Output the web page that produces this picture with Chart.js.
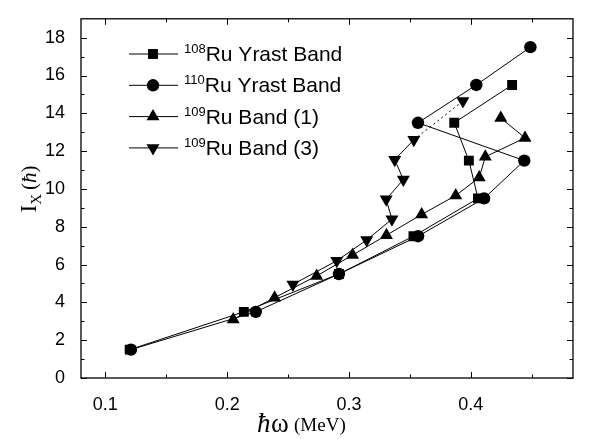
<!DOCTYPE html>
<html>
    <head>
        <meta charset="UTF-8">
        <title>Ix vs hbar omega</title>
        <script src="https://cdn.jsdelivr.net/npm/chart.js"></script>
        <style>
            body { margin: 0; background: #fff; }
            #wrap { width: 592px; height: 439px; }
        </style>
    </head>
    <body>
        <div id="wrap"><canvas id="ix_chart" width="592" height="439"></canvas></div>

    <script>
//                                                              DATA
//---------------------------------------------------------------------------------------------------------------------------------------------------------
    // 108Ru yrast band
    const ru108_w = [0.120, 0.2137, 0.2918, 0.353, 0.406, 0.3985, 0.3865, 0.434];
    const ru108_I = [1.5, 3.5, 5.5, 7.5, 9.5, 11.5, 13.5, 15.5];
    // 110Ru yrast band
    const ru110_w = [0.121, 0.2235, 0.2918, 0.3568, 0.411, 0.444, 0.3567, 0.4046, 0.449];
    const ru110_I = [1.5, 3.5, 5.5, 7.5, 9.5, 11.5, 13.5, 15.5, 17.5];
    // 109Ru band (1)
    const band1_w = [0.205, 0.239, 0.2735, 0.303, 0.3308, 0.3597, 0.3877, 0.407, 0.412, 0.4446, 0.4247];
    const band1_I = [3.1, 4.25, 5.4, 6.5, 7.55, 8.65, 9.65, 10.6, 11.7, 12.7, 13.75];
    // 109Ru band (3), last link is dotted
    const band3_w = [0.254, 0.2900, 0.3146, 0.3353, 0.3306, 0.3447, 0.3376, 0.3533, 0.3936];
    const band3_I = [4.95, 6.2, 7.3, 8.4, 9.45, 10.5, 11.55, 12.6, 14.65];

    const legendNames = [['108', 'Ru Yrast Band'], ['110', 'Ru Yrast Band'], ['109', 'Ru Band (1)'], ['109', 'Ru Band (3)']];

    const xTicks = [0.1, 0.15, 0.2, 0.25, 0.3, 0.35, 0.4, 0.45];
    const xLabels = ['0.1', '', '0.2', '', '0.3', '', '0.4', ''];
    const yTicks = [0, 1, 2, 3, 4, 5, 6, 7, 8, 9, 10, 11, 12, 13, 14, 15, 16, 17, 18];
    const yLabels = ['0', '', '2', '', '4', '', '6', '', '8', '', '10', '', '12', '', '14', '', '16', '', '18'];

    function pts(xs, ys) {
        return xs.map((v, i) => ({ x: v, y: ys[i] }));
    }

//                                                              PLUGINS
//---------------------------------------------------------------------------------------------------------------------------------------------------------
    // frame + inward ticks on all four sides, axis titles
    const framePlugin = {
        id: 'frame',
        afterDraw(chart) {
            const ctx = chart.ctx, a = chart.chartArea;
            const xs = chart.scales.x, ys = chart.scales.y;
            ctx.save();
            ctx.strokeStyle = '#000';
            ctx.lineWidth = 1.3;
            ctx.strokeRect(a.left, a.top, a.right - a.left, a.bottom - a.top);
            ctx.lineWidth = 1;
            ctx.beginPath();
            xTicks.forEach((v, i) => {
                const p = Math.round(xs.getPixelForValue(v)) + 0.5;
                const len = xLabels[i] ? 6 : 3.5;
                ctx.moveTo(p, a.bottom); ctx.lineTo(p, a.bottom - len);
                ctx.moveTo(p, a.top); ctx.lineTo(p, a.top + len);
            });
            yTicks.forEach((v, i) => {
                const p = Math.round(ys.getPixelForValue(v)) + 0.5;
                const len = yLabels[i] ? 6 : 3.5;
                ctx.moveTo(a.left, p); ctx.lineTo(a.left + len, p);
                ctx.moveTo(a.right, p); ctx.lineTo(a.right - len, p);
            });
            ctx.stroke();

            ctx.fillStyle = '#000';
            ctx.textBaseline = 'alphabetic';
            ctx.textAlign = 'left';
            ctx.font = 'italic 27px "Liberation Serif"';
            ctx.fillText('\u0127', 257, 432);
            ctx.font = '27px "Liberation Serif"';
            ctx.fillText('\u03c9', 271, 432);
            ctx.font = '19px "Liberation Serif"';
            ctx.fillText('(MeV)', 294, 431);

            ctx.translate(36, 189);
            ctx.rotate(-Math.PI / 2);
            ctx.font = '23px "Liberation Serif"';
            const w1 = ctx.measureText('I').width;
            ctx.font = '15px "Liberation Serif"';
            const w2 = ctx.measureText('X').width;
            ctx.font = '21px "Liberation Serif"';
            const w3 = ctx.measureText('(').width, w4 = ctx.measureText(')').width;
            ctx.font = 'italic 21px "Liberation Serif"';
            const w5 = ctx.measureText('\u0127').width;
            let tx = -(w1 + w2 + 4 + w3 + w5 + w4) / 2;
            ctx.font = '23px "Liberation Serif"';
            ctx.fillText('I', tx, 0); tx += w1;
            ctx.font = '15px "Liberation Serif"';
            ctx.fillText('X', tx, 5); tx += w2 + 4;
            ctx.font = '21px "Liberation Serif"';
            ctx.fillText('(', tx, 0); tx += w3;
            ctx.font = 'italic 21px "Liberation Serif"';
            ctx.fillText('\u0127', tx, 0); tx += w5;
            ctx.font = '21px "Liberation Serif"';
            ctx.fillText(')', tx, 0);
            ctx.restore();
        }
    };

    // legend with superscript mass numbers
    const legendPlugin = {
        id: 'supLegend',
        afterDraw(chart) {
            const ctx = chart.ctx;
            ctx.save();
            chart.data.datasets.forEach((ds, i) => {
                const y = 54 + i * 31.3;
                ctx.strokeStyle = '#000';
                ctx.lineWidth = 1;
                ctx.beginPath();
                ctx.moveTo(129, y); ctx.lineTo(178, y);
                ctx.stroke();
                Chart.helpers.drawPoint(ctx, {
                    pointStyle: ds.pointStyle, radius: ds.pointRadius, rotation: ds.pointRotation || 0, borderWidth: 0
                }, 153, y);
                ctx.fillStyle = '#000';
                ctx.textBaseline = 'alphabetic';
                ctx.font = '13px "Liberation Sans"';
                ctx.fillText(legendNames[i][0], 184, y - 1);
                const sw = ctx.measureText(legendNames[i][0]).width;
                ctx.font = '21px "Liberation Sans"';
                ctx.fillText(legendNames[i][1], 184 + sw, y + 7);
            });
            ctx.restore();
        }
    };

//                                                              CHART
//---------------------------------------------------------------------------------------------------------------------------------------------------------
    function line(data, style, radius, rot, order) {
        return {
            data: data,
            showLine: true,
            borderColor: '#000',
            borderWidth: 1,
            backgroundColor: '#000',
            pointBackgroundColor: '#000',
            pointBorderWidth: 0,
            pointStyle: style,
            pointRadius: radius,
            pointRotation: rot,
            pointHoverRadius: radius,
            order: order,
        };
    }

    const ds108 = line(pts(ru108_w, ru108_I), 'rect', 7, 0, 2);
    const ds110 = line(pts(ru110_w, ru110_I), 'circle', 6.2, 0, 1);
    const dsB1 = line(pts(band1_w, band1_I), 'triangle', 7.5, 0, 3);
    const dsB3 = line(pts(band3_w, band3_I), 'triangle', 7.5, 180, 4);
    dsB3.segment = {
        borderDash: c => (c.p1DataIndex === band3_w.length - 1 ? [2, 3] : undefined),
    };

    new Chart(document.getElementById('ix_chart'), {
        type: 'scatter',
        data: { datasets: [ds108, ds110, dsB1, dsB3] },
        options: {
            responsive: false,
            animation: false,
            devicePixelRatio: 1,
            layout: { padding: { left: 0, right: 19, top: 6, bottom: 0 } },
            plugins: { legend: { display: false }, tooltip: { enabled: false } },
            scales: {
                x: {
                    type: 'linear',
                    min: 0.08,
                    max: 0.484,
                    afterFit: s => { s.height = 61; },
                    afterBuildTicks: s => { s.ticks = xTicks.map(v => ({ value: v })); },
                    grid: { display: false },
                    border: { display: false },
                    ticks: {
                        padding: 8,
                        color: '#000',
                        font: { family: '"Liberation Sans"', size: 18 },
                        maxRotation: 0,
                        autoSkip: false,
                        callback: (v, i) => xLabels[i],
                    },
                },
                y: {
                    type: 'linear',
                    min: 0,
                    max: 19,
                    afterFit: s => { s.width = 81; },
                    afterBuildTicks: s => { s.ticks = yTicks.map(v => ({ value: v })); },
                    grid: { display: false },
                    border: { display: false },
                    ticks: {
                        padding: 8,
                        color: '#000',
                        font: { family: '"Liberation Sans"', size: 18 },
                        autoSkip: false,
                        callback: (v, i) => yLabels[i],
                    },
                },
            },
        },
        plugins: [framePlugin, legendPlugin],
    });
    </script>
    </body>
</html>
